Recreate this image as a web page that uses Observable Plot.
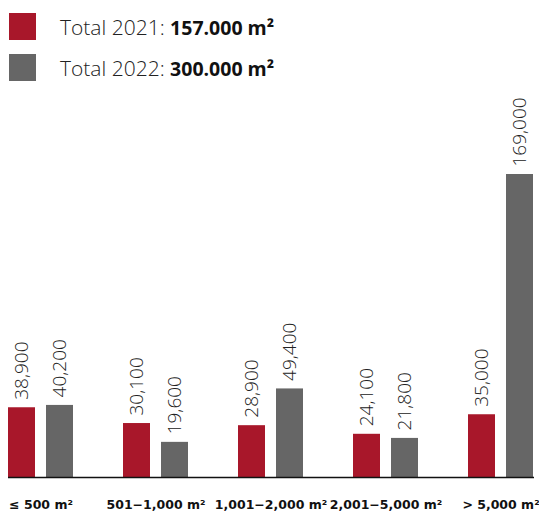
<!DOCTYPE html>
<html>
<head>
<meta charset="utf-8">
<script src="https://cdn.jsdelivr.net/npm/d3@7"></script>
<script src="https://cdn.jsdelivr.net/npm/@observablehq/plot@0.6"></script>
<style>
  html, body { margin: 0; padding: 0; background: #fff; }
  body { width: 539px; height: 514px; overflow: hidden; font-family: "Open Sans", sans-serif; }
  #legend { position: relative; height: 90px; }
  .item { position: absolute; left: 9px; display: flex; align-items: center; }
  .sw { width: 27px; height: 27px; }
  .lbl { margin-left: 24px; padding-top: 2px; font-size: 21px; font-weight: 300; color: #222; white-space: nowrap; }
  .lbl b { font-weight: 700; font-size: 19.5px; color: #111; }
  #chart svg { display: block; }
</style>
</head>
<body>
<div id="legend"></div>
<div id="chart"></div>
<script>
const categories = ["≤ 500 m²", "501−1,000 m²", "1,001−2,000 m²", "2,001−5,000 m²", "> 5,000 m²"];
const values2021 = [38900, 30100, 28900, 24100, 35000];
const values2022 = [40200, 19600, 49400, 21800, 169000];
const seriesNames = ["Total 2021", "Total 2022"];
const seriesTotals = ["157.000 m²", "300.000 m²"];
const seriesColors = ["#a8172a", "#666666"];

const legend = document.getElementById("legend");
seriesNames.forEach((n, i) => {
  const it = document.createElement("div");
  it.className = "item";
  it.style.top = (11 + i * 41) + "px";
  it.innerHTML = `<div class="sw" style="background:${seriesColors[i]}"></div><div class="lbl">${n}: <b>${seriesTotals[i]}</b></div>`;
  legend.appendChild(it);
});

const d2021 = categories.map((c, i) => ({cat: c, value: values2021[i]}));
const d2022 = categories.map((c, i) => ({cat: c, value: values2022[i]}));
const fmt = d3.format(",");

const chart = Plot.plot({
  width: 539,
  height: 424,
  marginLeft: 8,
  marginRight: 5,
  marginTop: 84,
  marginBottom: 37,
  style: {fontFamily: "Open Sans, sans-serif", background: "#fff"},
  x: {domain: categories, paddingInner: 0.434, paddingOuter: 0, label: null},
  y: {domain: [0, 169000], axis: null},
  marks: [
    Plot.barY(d2021, {x: "cat", y: "value", fill: seriesColors[0], insetRight: 38}),
    Plot.barY(d2022, {x: "cat", y: "value", fill: seriesColors[1], insetLeft: 38}),
    Plot.text(d2021, {x: "cat", y: "value", text: d => fmt(d.value), rotate: -90, textAnchor: "start", dx: -19, dy: -8, fontSize: 19, fontWeight: 300, fill: "#222"}),
    Plot.text(d2022, {x: "cat", y: "value", text: d => fmt(d.value), rotate: -90, textAnchor: "start", dx: 19, dy: -8, fontSize: 19, fontWeight: 300, fill: "#222"}),
    Plot.ruleY([0], {stroke: "#111", strokeWidth: 1.5}),
    Plot.axisX({tickSize: 0, tickPadding: 23, fontSize: 12.5, fontWeight: "bold", fontFamily: "DejaVu Sans", color: "#111", label: null})
  ]
});
document.getElementById("chart").appendChild(chart);
</script>
</body>
</html>
